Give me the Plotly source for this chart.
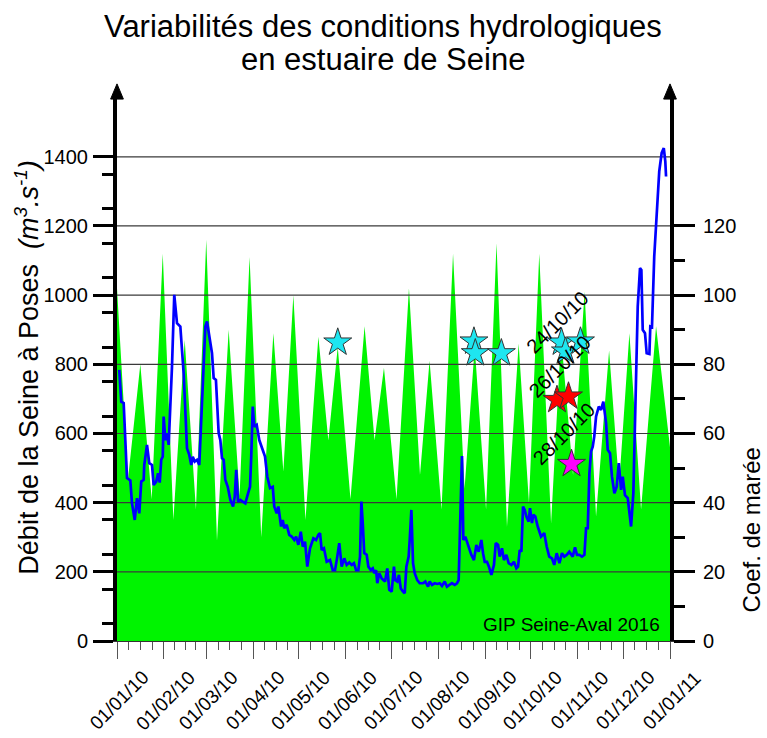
import pandas as pd
import plotly.graph_objects as go

# --- data (days counted from 01/01/2010) ---
tide_day = [0.0, 7.3, 15.4, 22.9, 30.2, 37.2, 44.7, 52.1, 58.9, 66.0, 73.7, 80.9,
            87.5, 95.2, 103.2, 109.8, 116.4, 124.4, 132.9, 139.5, 145.7, 154.1,
            163.4, 170.0, 176.2, 184.5, 192.7, 200.0, 206.3, 214.2, 221.8, 229.4,
            236.1, 243.6, 250.5, 257.4, 265.1, 271.9, 278.7, 286.5, 293.1, 301.0,
            308.6, 316.2, 324.8, 331.4, 338.2, 345.9, 355.8, 365.0]
tide_coef = [102, 47, 80, 41, 112, 35, 87, 38, 116, 29, 90, 42,
             111, 30, 89, 49, 100, 35, 88, 58, 85, 41,
             91, 58, 79, 41, 102, 48, 81, 38, 112, 44,
             85, 38, 115, 33, 86, 40, 112, 34, 88, 48,
             101, 36, 84, 45, 89, 38, 91, 56]

flow_day = [1.5, 2.8, 4.4, 6.6, 8.8, 9.9, 11.7, 13.2, 14.7, 16.0, 17.6, 18.0, 19.8,
            21.3, 23.1, 24.2, 25.9, 27.1, 28.2, 29.2, 30.2, 30.8, 31.9, 33.0, 34.1,
            36.3, 37.8, 39.6, 41.8, 44.0, 46.2, 47.7, 49.0, 50.0, 51.3, 52.8, 54.3,
            56.1, 58.3, 59.4, 61.2, 62.7, 63.8, 65.3, 67.1, 68.2, 69.3, 70.4, 71.5,
            73.1, 74.8, 76.6, 77.7, 78.7, 79.9, 81.4, 83.0, 84.7, 86.5, 87.8, 88.6,
            89.6, 90.6, 92.2, 93.9, 96.2, 97.7, 99.2, 101.0, 102.8, 103.8, 105.4,
            106.5, 108.3, 109.4, 110.4, 112.0, 113.7, 115.3, 117.0, 118.2, 119.7,
            121.3, 122.6, 124.1, 125.6, 127.4, 129.6, 131.4, 132.9, 134.0, 135.1,
            136.6, 138.4, 140.6, 142.4, 143.9, 145.4, 146.7, 148.3, 150.0, 151.6,
            153.3, 154.9, 156.4, 157.8, 159.3, 160.4, 161.3, 162.2, 163.2, 164.8,
            165.9, 167.5, 168.8, 169.8, 171.0, 171.8, 173.1, 174.7, 175.8, 176.9,
            178.4, 179.7, 181.3, 182.8, 183.7, 185.0, 186.1, 187.3, 188.8, 189.9,
            191.0, 192.5, 193.2, 194.3, 195.4, 196.5, 198.2, 199.8, 202.0, 203.5,
            205.3, 206.4, 207.9, 209.7, 211.4, 213.0, 214.5, 216.3, 217.8, 219.6,
            221.1, 222.9, 224.4, 225.5, 226.9, 227.7, 228.6, 229.9, 231.7, 232.8,
            233.9, 235.6, 237.2, 238.7, 240.5, 241.6, 242.7, 244.2, 245.5, 247.1,
            248.8, 250.0, 251.5, 252.6, 254.1, 255.4, 257.0, 258.5, 260.3, 262.0,
            263.6, 264.7, 265.8, 266.9, 268.0, 269.1, 270.2, 271.7, 272.6, 273.9,
            274.8, 276.1, 277.7, 279.9, 282.0, 283.6, 285.3, 287.1, 288.6, 290.2,
            292.0, 293.7, 295.2, 296.8, 298.5, 300.8, 302.3, 303.6, 305.1, 306.9,
            308.5, 309.6, 310.7, 311.8, 312.9, 314.0, 315.0, 316.2, 318.0, 319.5,
            321.0, 322.8, 323.9, 325.4, 326.7, 328.3, 329.8, 331.2, 332.7, 333.8,
            335.3, 337.1, 338.2, 339.3, 340.8, 342.1, 343.7, 345.2, 346.1, 347.0,
            348.5, 349.6, 351.4, 352.0, 353.1, 354.6, 356.4, 357.9, 359.5, 360.9,
            361.9, 362.4]
flow = [784, 692, 688, 471, 464, 398, 350, 413, 369, 461, 466, 509, 567,
        514, 509, 451, 461, 485, 458, 524, 533, 649, 581, 601, 567,
        794, 1001, 919, 909, 774, 557, 538, 509, 533, 519, 524, 509,
        678, 909, 924, 871, 832, 760, 755, 601, 581, 529, 524, 466,
        446, 408, 389, 417, 495, 403, 408, 403, 398, 427, 446, 533,
        678, 620, 625, 581, 553, 533, 475, 442, 446, 389, 369,
        389, 331, 350, 326, 336, 307, 302, 292, 302, 278,
        316, 273, 287, 215, 268, 297, 292, 307, 312, 263,
        268, 229, 234, 205, 205, 244, 283, 215, 239, 220,
        227, 220, 225, 205, 205, 244, 403, 341, 254, 249,
        215, 205, 210, 196, 205, 167, 196, 181, 176, 172,
        210, 148, 143, 215, 176, 172, 191, 152, 143, 138,
        215, 244, 292, 379, 225, 196, 176, 167, 167, 172,
        157, 172, 162, 167, 165, 167, 159, 172, 157, 162,
        167, 162, 167, 176, 389, 535, 292, 302, 278, 263,
        249, 234, 278, 258, 292, 254, 229, 229, 215, 191,
        220, 283, 278, 244, 268, 234, 249, 225, 220, 229,
        210, 215, 263, 258, 389, 379, 360, 345, 384, 341,
        365, 360, 331, 302, 312, 273, 244, 239, 220, 254,
        225, 254, 244, 249, 258, 244, 271, 249, 249, 244,
        249, 326, 326, 485, 548, 562, 591, 649, 678, 668,
        692, 630, 553, 543, 475, 427, 446, 514, 437, 475,
        422, 413, 379, 331, 427, 678, 967, 1078, 1073, 900,
        890, 832, 830, 909, 907, 1112, 1256, 1358, 1411, 1425,
        1387, 1343]

cyan_day = [145.7, 235.6, 236.5, 253.7, 293.4, 296.0, 305.9]
cyan_coef = [86.3, 86.6, 83.2, 83.2, 86.3, 83.7, 86.6]
red_day = [290.4, 298.0]
red_coef = [69.7, 70.7]
pink_day = [300.0]
pink_coef = [51.2]

sample_labels = ["24/10/10", "26/10/10", "28/10/10"]
sample_label_day = [296.0, 298.0, 300.0]
sample_label_coef = [83.7, 70.7, 51.2]

month_labels = ["01/01/10", "01/02/10", "01/03/10", "01/04/10", "01/05/10", "01/06/10",
                "01/07/10", "01/08/10", "01/09/10", "01/10/10", "01/11/10", "01/12/10",
                "01/01/11"]
flow_ticks = [0, 200, 400, 600, 800, 1000, 1200, 1400]
coef_ticks = [0, 20, 40, 60, 80, 100, 120]

FONT = "Liberation Sans, Arial, sans-serif"
base = pd.Timestamp("2010-01-01")


def to_date(days):
    return base + pd.to_timedelta(pd.Series(days, dtype=float), unit="D")


months = pd.to_datetime(month_labels, format="%d/%m/%y")
minor_x = []
for a, b in zip(months[:-1], months[1:]):
    step = (b - a) / 4
    minor_x += [a + step * k for k in (1, 2, 3)]

FLOW_MAX = 1570
COEF_MAX = FLOW_MAX / 10

fig = go.Figure()

# tidal coefficient (right scale)
fig.add_trace(go.Scatter(x=to_date(tide_day), y=tide_coef, mode="lines",
                         line=dict(color="#00f400", width=0), fill="tozeroy",
                         fillcolor="#00f400", yaxis="y", hoverinfo="skip"))

# horizontal grid drawn over the filled area
gx, gy = [], []
for v in flow_ticks[1:]:
    gx += [months[0], months[-1], None]
    gy += [v, v, None]
fig.add_trace(go.Scatter(x=gx, y=gy, mode="lines", line=dict(color="#3a3a3a", width=1.2),
                         yaxis="y2", hoverinfo="skip"))

# river discharge (left scale)
fig.add_trace(go.Scatter(x=to_date(flow_day), y=flow, mode="lines",
                         line=dict(color="#0000ff", width=2.7), yaxis="y2"))

# sampling dates
star = dict(symbol="star", size=21, line=dict(color="#333333", width=1))
fig.add_trace(go.Scatter(x=to_date(cyan_day), y=cyan_coef, mode="markers",
                         marker=dict(color="#1ee6f0", **star), yaxis="y3"))
fig.add_trace(go.Scatter(x=to_date(red_day), y=red_coef, mode="markers",
                         marker=dict(color="#ff0000", **star), yaxis="y3"))
fig.add_trace(go.Scatter(x=to_date(pink_day), y=pink_coef, mode="markers",
                         marker=dict(color="#ff00ff", **star), yaxis="y3"))

annotations = []
for lab, d, c in zip(sample_labels, sample_label_day, sample_label_coef):
    annotations.append(dict(x=to_date([d])[0], y=c, xref="x", yref="y3", text=lab,
                            showarrow=False, textangle=-45, xshift=-8, yshift=30,
                            font=dict(family=FONT, size=20, color="#000"),
                            xanchor="center", yanchor="middle"))
for lab, m in zip(month_labels, months):
    annotations.append(dict(x=m, y=0, xref="x", yref="paper", text=lab, showarrow=False,
                            textangle=-45, xshift=1.5, yshift=-59,
                            font=dict(family=FONT, size=19, color="#000"),
                            xanchor="center", yanchor="middle"))

annotations += [
    dict(x=0.4819, y=1.131, xref="paper", yref="paper", showarrow=False,
         text="Variabilités des conditions hydrologiques",
         font=dict(family=FONT, size=31, color="#000"), xanchor="center", yanchor="middle"),
    dict(x=0.4819, y=1.070, xref="paper", yref="paper", showarrow=False,
         text="en estuaire de Seine",
         font=dict(family=FONT, size=31, color="#000"), xanchor="center", yanchor="middle"),
    dict(x=-0.163, y=0.505, xref="paper", yref="paper", showarrow=False, textangle=-90,
         text="Débit de la Seine à Poses  <i>(m<sup>3</sup>.s<sup>-1</sup>)</i>",
         font=dict(family=FONT, size=27, color="#000"), xanchor="center", yanchor="middle"),
    dict(x=1.148, y=0.205, xref="paper", yref="paper", showarrow=False, textangle=-90,
         text="Coef. de marée",
         font=dict(family=FONT, size=24, color="#000"), xanchor="center", yanchor="middle"),
    dict(x=0.985, y=0.031, xref="paper", yref="paper", showarrow=False,
         text="GIP Seine-Aval 2016",
         font=dict(family=FONT, size=19, color="#000"), xanchor="right", yanchor="middle"),
]

# arrow heads on top of both vertical axes
shapes = []
for px in (0.0, 1.0):
    shapes.append(dict(type="path", xref="paper", yref="paper",
                       path=f"M {px - 0.0115} 0.998 L {px + 0.0115} 0.998 L {px} 1.026 Z",
                       fillcolor="#000", line=dict(color="#000", width=1)))

tickfont = dict(family=FONT, size=20, color="#000")

fig.update_layout(
    width=767, height=738,
    margin=dict(l=117, r=97, t=98, b=97),
    paper_bgcolor="white", plot_bgcolor="white",
    showlegend=False,
    annotations=annotations,
    shapes=shapes,
    xaxis=dict(range=[months[0], months[-1]], showgrid=False, zeroline=False,
               showline=True, linecolor="#333", linewidth=1,
               tickmode="array", tickvals=list(months), showticklabels=False,
               ticks="outside", ticklen=17, tickwidth=1, tickcolor="#555",
               minor=dict(tickmode="array", tickvals=minor_x, ticks="outside",
                          ticklen=8, tickwidth=1, tickcolor="#555", showgrid=False)),
    yaxis=dict(range=[0, COEF_MAX], side="right", showgrid=False, zeroline=False,
               showline=True, linecolor="#000", linewidth=4,
               tickmode="array", tickvals=coef_ticks, ticks="outside", ticklen=21,
               tickwidth=3, tickcolor="#000", tickfont=tickfont, ticklabelstandoff=4,
               minor=dict(tickmode="array", tickvals=list(range(10, 120, 20)),
                          ticks="outside", ticklen=11, tickwidth=3, tickcolor="#000",
                          showgrid=False)),
    yaxis2=dict(range=[0, FLOW_MAX], side="left", overlaying="y", showgrid=False,
                zeroline=False, showline=True, linecolor="#000", linewidth=4,
                tickmode="array", tickvals=flow_ticks, ticks="outside", ticklen=20,
                tickwidth=3, tickcolor="#000", tickfont=tickfont, ticklabelstandoff=1,
                minor=dict(tickmode="array", tickvals=list(range(50, 1400, 100)),
                           ticks="outside", ticklen=11, tickwidth=3, tickcolor="#000",
                           showgrid=False)),
    yaxis3=dict(range=[0, COEF_MAX], overlaying="y", visible=False),
)

fig.write_html("out.html")
